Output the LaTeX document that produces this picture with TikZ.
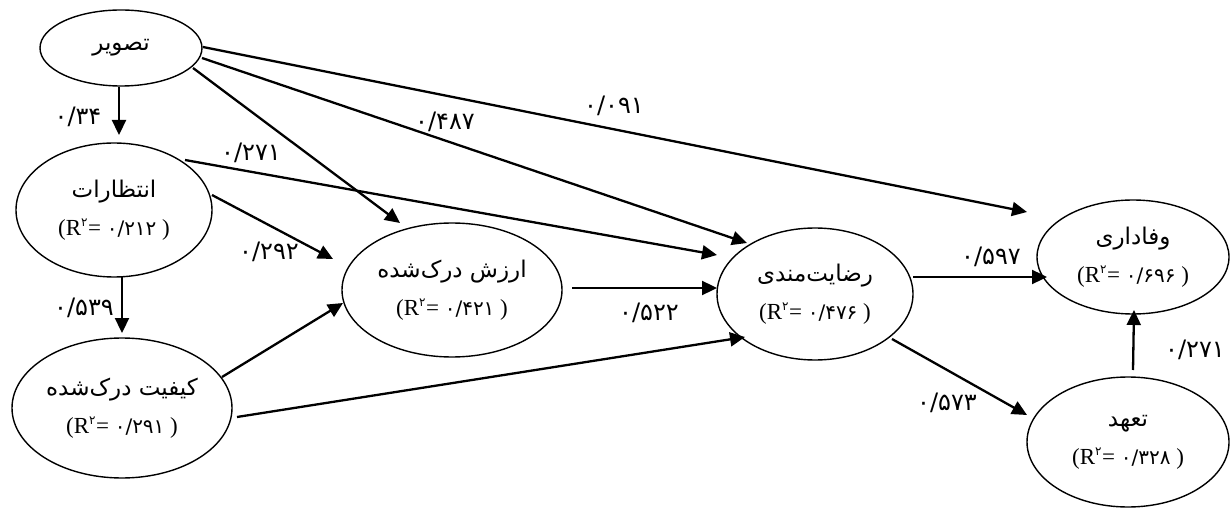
\documentclass[tikz,border=0pt]{standalone}
\usepackage{fontspec}
\setmainfont{Liberation Serif}
\newfontfamily\fa[Script=Arabic]{DejaVu Sans}
\TeXXeTstate=1
\usetikzlibrary{shapes.geometric,arrows.meta,calc}
\newcommand{\nm}[1]{{\fa\fontsize{23}{26}\selectfont\beginR #1\endR}}
\newcommand{\rsq}[1]{{\fontsize{23}{24}\selectfont(R\textsuperscript{\fa\fontsize{12}{12}\selectfont ۲}= {\fa\fontsize{20}{22}\selectfont #1} )}}
\newcommand{\num}[1]{{\fa\fontsize{24}{26}\selectfont #1}}
\begin{document}
\begin{tikzpicture}[x=1pt,y=-1pt,
  var/.style={draw, ellipse, line width=1.4pt, inner sep=0pt, align=center},
  arr/.style={line width=2.3pt, -{Triangle[length=15pt,width=14pt]}},
  lbl/.style={inner sep=0pt}]
\useasboundingbox (0,0) rectangle (1230,510);
% variables
\node[var, minimum width=162, minimum height=76] (T) at (121,48) {\nm{تصویر}};
\node[var, minimum width=196, minimum height=134] (E) at (114,210) {\nm{انتظارات}\\[15pt]\rsq{۰/۲۱۲}};
\node[var, minimum width=220, minimum height=140] (K) at (122,408) {\nm{کیفیت درک‌شده}\\[15pt]\rsq{۰/۲۹۱}};
\node[var, minimum width=220, minimum height=134] (A) at (452,290) {\nm{ارزش درک‌شده}\\[15pt]\rsq{۰/۴۲۱}};
\node[var, minimum width=196, minimum height=132] (S) at (815,294) {\nm{رضایت‌مندی}\\[15pt]\rsq{۰/۴۷۶}};
\node[var, minimum width=192, minimum height=114] (V) at (1133,257) {\nm{وفاداری}\\[15pt]\rsq{۰/۶۹۶}};
\node[var, minimum width=202, minimum height=130] (C) at (1128,442) {\nm{تعهد}\\[15pt]\rsq{۰/۳۲۸}};
% connectors
\draw[arr] ($(T)+(-2,39)$) -- ($(E)+(5,-75)$);
\draw[arr] ($(E)+(8,67)$) -- ($(K)+(0,-75)$);
\draw[arr] ($(T)+(72,20)$) -- ($(A)+(-52,-67)$);
\draw[arr] ($(T)+(81,10)$) -- ($(S)+(-68,-51)$);
\draw[arr] ($(T)+(82,-1)$) -- ($(V)+(-106,-45)$);
\draw[arr] ($(E)+(71,-50)$) -- ($(S)+(-98,-39)$);
\draw[arr] ($(E)+(98,-15)$) -- ($(A)+(-119,-31)$);
\draw[arr] ($(K)+(100,-31)$) -- ($(A)+(-109,13)$);
\draw[arr] ($(K)+(115,9)$) -- ($(S)+(-70,43)$);
\draw[arr] ($(A)+(120,-2)$) -- ($(S)+(-98,-6)$);
\draw[arr] ($(S)+(98,-17)$) -- ($(V)+(-86,20)$);
\draw[arr] ($(S)+(77,45)$) -- ($(C)+(-101,-27)$);
\draw[arr] ($(C)+(5,-72)$) -- ($(V)+(1,53)$);
% labels
\node[lbl] (l1) at (78,117) {\num{۰/۳۴}};
\node[lbl] (l2) at (251,153) {\num{۰/۲۷۱}};
\node[lbl] (l3) at (269,252) {\num{۰/۲۹۲}};
\node[lbl] (l4) at (84,308) {\num{۰/۵۳۹}};
\node[lbl] (l5) at (445,122) {\num{۰/۴۸۷}};
\node[lbl] (l6) at (614,106) {\num{۰/۰۹۱}};
\node[lbl] (l7) at (649,313) {\num{۰/۵۲۲}};
\node[lbl] (l8) at (991,257) {\num{۰/۵۹۷}};
\node[lbl] (l9) at (1195,350) {\num{۰/۲۷۱}};
\node[lbl] (l10) at (947,403) {\num{۰/۵۷۳}};
\end{tikzpicture}
\end{document}
